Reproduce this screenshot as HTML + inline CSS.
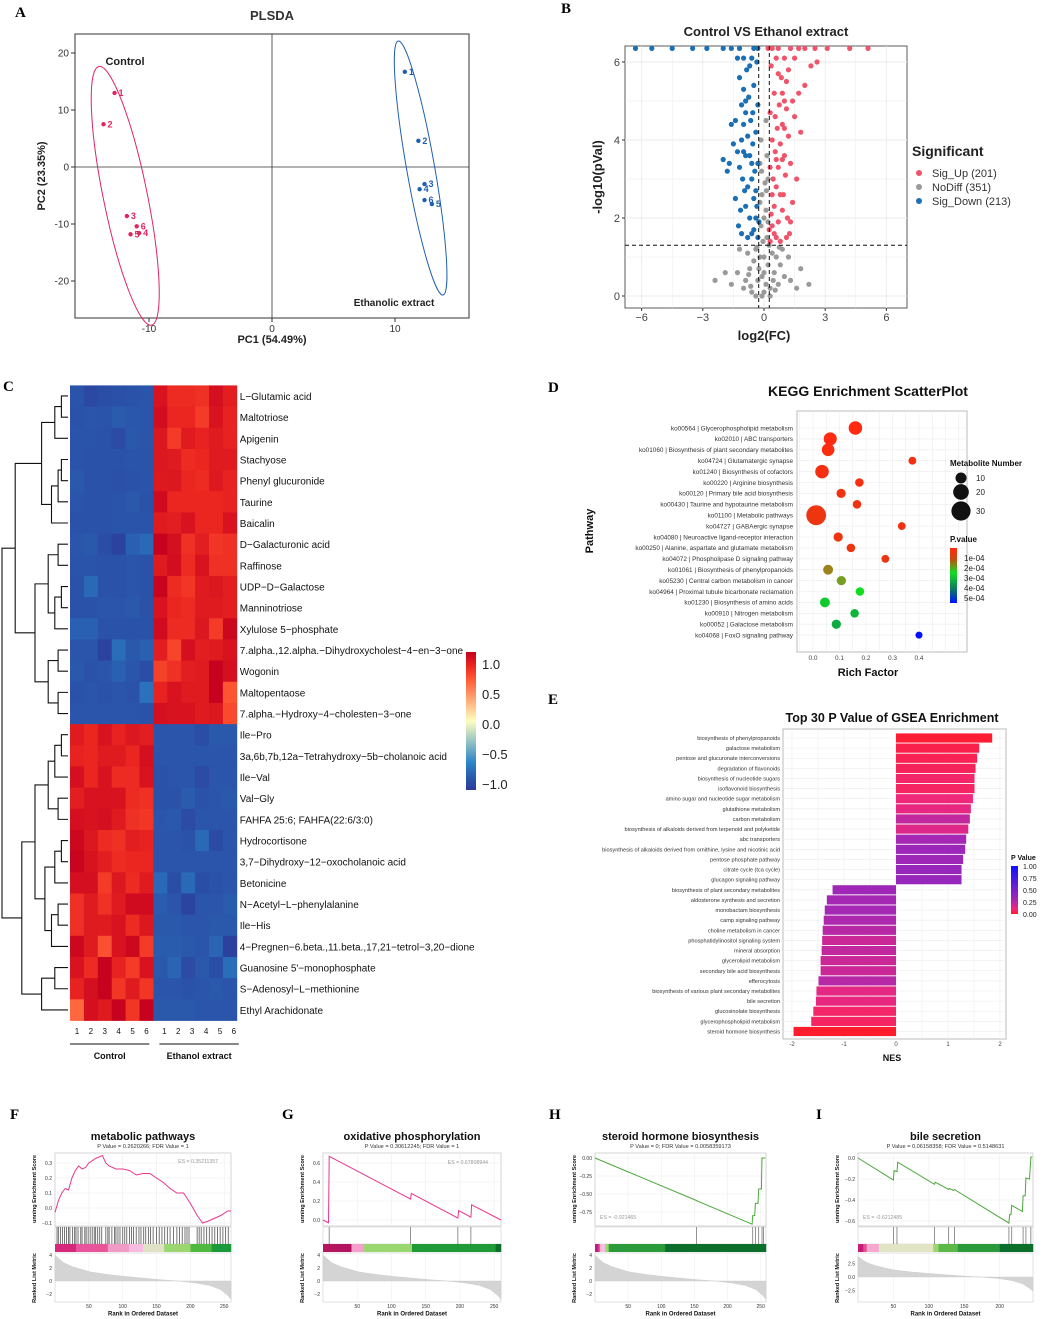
<!DOCTYPE html>
<html><head><meta charset="utf-8">
<style>
html,body{margin:0;padding:0;background:#fff;}
svg{display:block;font-family:"Liberation Sans",sans-serif;}
.pl{font-family:"Liberation Serif",serif;font-weight:bold;font-size:15px;}
</style></head>
<body>
<svg id="fig" width="1045" height="1319" viewBox="0 0 1045 1319" xmlns="http://www.w3.org/2000/svg">
<rect width="1045" height="1319" fill="#fff"/>
<text class="pl" x="15" y="17">A</text>
<text class="pl" x="561" y="13">B</text>
<text class="pl" x="3" y="391">C</text>
<text class="pl" x="548" y="392">D</text>
<text class="pl" x="548" y="704">E</text>
<text class="pl" x="10" y="1119">F</text>
<text class="pl" x="282" y="1119">G</text>
<text class="pl" x="549" y="1119">H</text>
<text class="pl" x="816" y="1119">I</text>
</svg>
<script>
// ---------- DATA ----------
const pcaCtrlX=[-12.8,-13.7,-11.8,-10.8,-11.5,-11.0];
const pcaCtrlY=[13.0,7.5,-8.6,-11.6,-11.8,-10.4];
const pcaEthX=[10.8,11.9,12.4,12.0,13.0,12.4];
const pcaEthY=[16.7,4.6,-3.0,-3.9,-6.5,-5.8];
const pcaLabels=['1','2','3','4','5','6'];
const pcaXTicks=[-10,0,10];
const pcaYTicks=[20,10,0,-10,-20];

const volUp=[[0.3,1.4],[0.4,1.8],[0.5,2.3],[0.6,2.8],[0.7,3.3],[0.8,3.9],[0.9,4.4],[1.0,5.0],[1.1,5.5],[1.2,4.1],[1.3,3.4],[1.5,4.6],[1.7,5.2],[2.0,5.4],[2.3,5.9],[2.6,6.0],[0.35,2.1],[0.45,3.0],[0.55,3.7],[0.65,4.3],[0.75,4.9],[0.85,5.6],[0.95,2.6],[1.05,3.1],[1.15,2.0],[1.25,1.6],[1.4,2.4],[0.3,4.7],[0.5,5.2],[0.7,1.9],[0.9,2.2],[1.1,1.5],[1.3,1.9],[0.4,4.0],[0.6,1.5],[0.8,2.6],[1.0,3.6],[1.2,5.8],[1.6,3.0],[0.3,3.3],[0.5,1.6],[0.7,5.7],[0.9,3.5],[1.1,4.8],[0.35,5.9],[0.55,4.6],[0.8,1.4],[1.0,4.3],[0.4,2.6],[0.6,3.5],[0.9,5.2],[1.4,5.0],[1.8,4.2],[0.25,1.7],[0.6,6.1],[1.0,6.1],[1.5,6.1],[0.7,6.35],[1.3,6.35],[2.0,6.35],[3.1,6.35],[4.2,6.35],[5.1,6.35],[0.4,6.35],[0.2,6.35],[1.7,6.35],[2.5,6.35]];
const volDown=[[-0.3,1.5],[-0.4,2.0],[-0.5,2.5],[-0.6,3.0],[-0.7,3.6],[-0.8,4.1],[-0.9,4.7],[-1.0,5.3],[-1.1,4.0],[-1.2,3.3],[-1.3,3.7],[-1.5,3.9],[-1.7,3.4],[-2.0,3.5],[-1.8,3.2],[-0.35,2.3],[-0.45,3.2],[-0.55,3.9],[-0.65,4.5],[-0.75,5.1],[-0.85,5.8],[-0.95,2.7],[-1.05,3.0],[-1.15,2.2],[-1.25,1.8],[-1.4,2.5],[-0.3,4.9],[-0.5,5.4],[-0.7,2.0],[-0.9,2.3],[-1.1,1.6],[-0.4,4.2],[-0.6,1.6],[-0.8,2.8],[-1.0,3.7],[-1.2,5.6],[-1.6,4.4],[-0.3,3.4],[-0.5,1.7],[-0.7,5.9],[-0.9,3.6],[-1.1,4.9],[-0.35,6.0],[-0.55,4.7],[-0.8,1.5],[-1.0,4.4],[-0.4,2.7],[-0.6,3.4],[-0.9,5.0],[-1.4,4.5],[-0.25,1.9],[-0.6,6.1],[-1.0,6.1],[-1.3,6.1],[-0.5,6.35],[-1.2,6.35],[-2.0,6.35],[-3.5,6.35],[-4.5,6.35],[-5.5,6.35],[-6.3,6.35],[-0.3,6.35],[-2.8,6.35],[-1.6,6.35]];
const volNo=[[0,0.1],[0.1,0.3],[-0.1,0.5],[0.2,0.8],[-0.2,1.0],[0.3,0.2],[-0.3,0.4],[0.5,0.6],[-0.5,0.9],[0.7,0.3],[-0.7,0.7],[1.0,0.5],[-1.0,0.2],[1.3,0.4],[-1.3,0.6],[1.6,0.2],[-1.6,0.3],[0.4,1.1],[-0.4,1.2],[0.6,1.0],[-0.6,0.1],[0.8,0.8],[-0.8,1.1],[0.9,1.2],[-0.9,0.4],[0.15,1.5],[-0.15,1.8],[0.1,2.2],[-0.1,2.6],[0.2,3.0],[-0.2,3.4],[0.05,2.9],[-0.05,1.4],[0.2,1.9],[-0.2,2.4],[0.15,3.6],[-0.15,4.0],[0.1,4.5],[-0.1,0.0],[0.3,0.0],[-0.4,0.0],[1.2,1.0],[-1.2,1.2],[0.45,0.4],[-0.25,0.7],[0.25,1.3],[-0.35,1.25],[1.8,0.7],[-1.9,0.6],[2.2,0.3],[-2.4,0.4],[0.55,0.15],[-0.65,0.25],[0.75,1.25],[-0.75,0.55],[0.0,1.0],[0.0,2.0],[0.12,2.7],[-0.12,3.2],[0.0,0.6]];
const volXTicks=[-6,-3,0,3,6];
const volYTicks=[0,2,4,6];
const volLegend=['Sig_Up (201)','NoDiff (351)','Sig_Down (213)'];

const hmRows=['L\u2212Glutamic acid','Maltotriose','Apigenin','Stachyose','Phenyl glucuronide','Taurine','Baicalin','D\u2212Galacturonic acid','Raffinose','UDP\u2212D\u2212Galactose','Manninotriose','Xylulose 5\u2212phosphate','7.alpha.,12.alpha.\u2212Dihydroxycholest\u22124\u2212en\u22123\u2212one','Wogonin','Maltopentaose','7.alpha.\u2212Hydroxy\u22124\u2212cholesten\u22123\u2212one','Ile\u2212Pro','3a,6b,7b,12a\u2212Tetrahydroxy\u22125b\u2212cholanoic acid','Ile\u2212Val','Val\u2212Gly','FAHFA 25:6; FAHFA(22:6/3:0)','Hydrocortisone','3,7\u2212Dihydroxy\u221212\u2212oxocholanoic acid','Betonicine','N\u2212Acetyl\u2212L\u2212phenylalanine','Ile\u2212His','4\u2212Pregnen\u22126.beta.,11.beta.,17,21\u2212tetrol\u22123,20\u2212dione','Guanosine 5\'\u2212monophosphate','S\u2212Adenosyl\u2212L\u2212methionine','Ethyl Arachidonate'];
const hmValues=[
[-0.85,-0.92,-0.88,-0.87,-0.86,-0.84,0.9,0.78,0.78,0.76,0.92,0.84],
[-0.86,-0.84,-0.85,-0.8,-0.83,-0.84,0.93,0.8,0.8,0.72,0.9,0.82],
[-0.85,-0.85,-0.86,-0.9,-0.82,-0.84,0.88,0.72,0.86,0.82,0.86,0.82],
[-0.85,-0.86,-0.86,-0.86,-0.85,-0.85,0.88,0.86,0.78,0.8,0.86,0.86],
[-0.82,-0.86,-0.86,-0.87,-0.86,-0.85,0.87,0.88,0.8,0.78,0.87,0.82],
[-0.84,-0.86,-0.86,-0.85,-0.82,-0.86,0.94,0.8,0.8,0.8,0.8,0.82],
[-0.86,-0.86,-0.86,-0.85,-0.85,-0.85,0.86,0.84,0.9,0.8,0.8,0.9],
[-0.84,-0.82,-0.88,-0.95,-0.78,-0.74,0.99,0.92,0.76,0.84,0.74,0.76],
[-0.85,-0.85,-0.86,-0.86,-0.84,-0.86,0.86,0.93,0.78,0.9,0.76,0.76],
[-0.86,-0.74,-0.86,-0.86,-0.84,-0.86,0.98,0.78,0.74,0.86,0.88,0.84],
[-0.86,-0.86,-0.84,-0.84,-0.82,-0.86,0.9,0.8,0.78,0.86,0.86,0.84],
[-0.78,-0.78,-0.86,-0.86,-0.86,-0.86,0.94,0.78,0.78,0.88,0.72,0.96],
[-0.84,-0.84,-0.95,-0.72,-0.82,-0.78,0.84,0.68,0.92,0.84,0.86,0.9],
[-0.82,-0.86,-0.84,-0.78,-0.84,-0.88,0.7,0.76,0.84,0.86,0.99,0.92],
[-0.86,-0.84,-0.86,-0.84,-0.86,-0.7,0.82,0.9,0.86,0.86,0.99,0.62],
[-0.84,-0.84,-0.84,-0.84,-0.84,-0.86,0.92,0.9,0.9,0.86,0.88,0.66],
[0.86,0.8,0.9,0.82,0.88,0.84,-0.84,-0.84,-0.84,-0.88,-0.82,-0.82],
[0.82,0.8,0.86,0.86,0.8,0.92,-0.84,-0.84,-0.84,-0.84,-0.84,-0.84],
[0.92,0.8,0.9,0.78,0.78,0.9,-0.86,-0.84,-0.84,-0.9,-0.84,-0.84],
[0.84,0.9,0.9,0.9,0.78,0.76,-0.86,-0.86,-0.8,-0.86,-0.84,-0.82],
[0.92,0.9,0.92,0.86,0.76,0.74,-0.84,-0.82,-0.9,-0.84,-0.84,-0.84],
[0.96,0.88,0.78,0.76,0.84,0.82,-0.84,-0.84,-0.86,-0.74,-0.9,-0.84],
[0.98,0.9,0.84,0.78,0.8,0.8,-0.84,-0.84,-0.84,-0.84,-0.84,-0.84],
[0.92,0.92,0.72,0.88,0.78,0.86,-0.74,-0.88,-0.74,-0.88,-0.86,-0.84],
[0.76,0.86,0.76,0.86,0.94,0.94,-0.8,-0.84,-0.94,-0.84,-0.84,-0.8],
[0.76,0.86,0.86,0.9,0.78,0.88,-0.82,-0.82,-0.84,-0.84,-0.82,-0.82],
[0.96,0.86,0.64,0.9,0.96,0.72,-0.8,-0.8,-0.82,-0.84,-0.76,-0.96],
[0.9,0.78,0.99,0.82,0.72,0.9,-0.82,-0.76,-0.9,-0.82,-0.88,-0.72],
[0.82,0.92,0.99,0.74,0.86,0.74,-0.84,-0.84,-0.86,-0.84,-0.82,-0.84],
[0.55,0.92,0.86,0.99,0.74,0.99,-0.82,-0.82,-0.82,-0.84,-0.84,-0.84]];
const hmColLabels=['1','2','3','4','5','6','1','2','3','4','5','6'];
const hmGroups=['Control','Ethanol extract'];
const hmScaleTicks=[1.0,0.5,0.0,-0.5,-1.0];
const dendro=[[[[[[0,1,1],2,2],[[[3,4,1],5,1.5],6,2.5],4],[[[7,8,1.5],[[9,10,1],11,2],3],[[12,13,1.5],[14,15,1.5],3],5],8],[[[[[16,17,1],18,2],[19,20,1.5],3],[[[21,22,1],23,2],[[24,25,1.5],26,2.5],3.5],5],[[27,28,2],29,4],7],10]][0];

const keggNames=['ko00564 | Glycerophospholipid metabolism','ko02010 | ABC transporters','ko01060 | Biosynthesis of plant secondary metabolites','ko04724 | Glutamatergic synapse','ko01240 | Biosynthesis of cofactors','ko00220 | Arginine biosynthesis','ko00120 | Primary bile acid biosynthesis','ko00430 | Taurine and hypotaurine metabolism','ko01100 | Metabolic pathways','ko04727 | GABAergic synapse','ko04080 | Neuroactive ligand-receptor interaction','ko00250 | Alanine, aspartate and glutamate metabolism','ko04072 | Phospholipase D signaling pathway','ko01061 | Biosynthesis of phenylpropanoids','ko05230 | Central carbon metabolism in cancer','ko04964 | Proximal tubule bicarbonate reclamation','ko01230 | Biosynthesis of amino acids','ko00910 | Nitrogen metabolism','ko00052 | Galactose metabolism','ko04068 | FoxO signaling pathway'];
const keggRich=[0.16,0.065,0.057,0.375,0.034,0.175,0.106,0.166,0.012,0.335,0.095,0.143,0.273,0.057,0.107,0.177,0.045,0.157,0.088,0.40];
const keggCount=[15,14,13,5,15,6,7,6,32,5,7,6,5,8,7,6,8,6,7,4];
const keggP=[0.9e-4,0.9e-4,0.95e-4,1.0e-4,1.0e-4,1.0e-4,1.05e-4,1.05e-4,1.1e-4,1.05e-4,1.1e-4,1.1e-4,1.15e-4,1.9e-4,2.2e-4,3.0e-4,3.2e-4,3.4e-4,3.5e-4,5.0e-4];
const keggXTicks=[0.0,0.1,0.2,0.3,0.4];
const keggSizeLegend=[10,20,30];
const keggPTicks=['1e-04','2e-04','3e-04','4e-04','5e-04'];

const gseaNames=['biosynthesis of phenylpropanoids','galactose metabolism','pentose and glucuronate interconversions','degradation of flavonoids','biosynthesis of nucleotide sugars','isoflavonoid biosynthesis','amino sugar and nucleotide sugar metabolism','glutathione metabolism','carbon metabolism','biosynthesis of alkaloids derived from terpenoid and polyketide','abc transporters','biosynthesis of alkaloids derived from ornithine, lysine and nicotinic acid','pentose phosphate pathway','citrate cycle (tca cycle)','glucagon signaling pathway','biosynthesis of plant secondary metabolites','aldosterone synthesis and secretion','monobactam biosynthesis','camp signaling pathway','choline metabolism in cancer','phosphatidylinositol signaling system','mineral absorption','glycerolipid metabolism','secondary bile acid biosynthesis','efferocytosis','biosynthesis of various plant secondary metabolites','bile secretion','glucosinolate biosynthesis','glycerophospholipid metabolism','steroid hormone biosynthesis'];
const gseaNES=[1.85,1.6,1.56,1.53,1.51,1.51,1.48,1.44,1.42,1.39,1.35,1.33,1.29,1.26,1.26,-1.22,-1.33,-1.37,-1.39,-1.41,-1.42,-1.43,-1.45,-1.45,-1.49,-1.53,-1.54,-1.59,-1.63,-1.97];
const gseaP=[0.01,0.04,0.05,0.06,0.08,0.07,0.1,0.12,0.22,0.15,0.3,0.34,0.33,0.36,0.36,0.33,0.3,0.3,0.28,0.25,0.2,0.22,0.2,0.2,0.25,0.13,0.12,0.08,0.07,0.0];
const gseaXTicks=[-2,-1,0,1,2];
const gseaPTicks=['1.00','0.75','0.50','0.25','0.00'];

const metricShape=[[0,4],[0.02,3.5],[0.05,2.8],[0.1,2.2],[0.15,1.8],[0.2,1.4],[0.3,1.0],[0.4,0.7],[0.5,0.45],[0.6,0.2],[0.7,0.0],[0.8,-0.3],[0.88,-0.7],[0.94,-1.3],[0.98,-2.2],[1,-2.8]];
const esF=[[0,-0.03],[5,0.05],[10,0.1],[15,0.13],[20,0.12],[25,0.2],[30,0.25],[35,0.28],[40,0.26],[45,0.27],[50,0.3],[60,0.33],[70,0.35],[75,0.3],[80,0.28],[90,0.26],[100,0.26],[110,0.25],[120,0.22],[130,0.23],[140,0.23],[150,0.2],[160,0.17],[170,0.13],[180,0.1],[190,0.1],[200,0.03],[210,-0.05],[218,-0.1],[225,-0.09],[235,-0.07],[245,-0.05],[255,-0.02],[260,-0.02]];
const esG=[[0,0],[8,-0.03],[9,0.67],[128,0.22],[129,0.28],[197,0.02],[198,0.1],[216,0.03],[217,0.16],[260,0.0]];
const esH=[[0,0],[153,-0.59],[155,-0.6],[237,-0.92],[238,-0.8],[241,-0.8],[242,-0.63],[246,-0.63],[247,-0.43],[251,-0.43],[252,0.0],[257,0.0]];
const esI=[[0,0],[50,-0.21],[51,-0.12],[55,-0.13],[56,-0.04],[108,-0.25],[109,-0.23],[128,-0.3],[129,-0.29],[135,-0.31],[136,-0.3],[213,-0.62],[214,-0.54],[216,-0.54],[217,-0.45],[232,-0.51],[233,-0.36],[236,-0.36],[237,-0.19],[242,-0.2],[244,0.01],[246,0.01]];
const hitsF=[3,5,8,11,14,17,20,22,26,29,31,34,38,40,44,46,49,52,55,58,60,63,66,69,75,78,80,84,88,90,93,96,100,103,106,110,113,116,120,124,127,131,134,138,141,145,150,154,158,162,166,170,175,180,184,188,192,195,198,210,213,216,220,224,228,232,236,240,244,248,252,256];
const hitsG=[9,128,197,216];
const hitsH=[153,238,242,247,252,254];
const hitsI=[50,55,108,128,136,213,217,233,237,244];

// ---------- HELPERS ----------
const NS='http://www.w3.org/2000/svg';
const svg=document.getElementById('fig');
function mk(tag,attrs,parent){const e=document.createElementNS(NS,tag);for(const k in attrs)e.setAttribute(k,attrs[k]);(parent||svg).appendChild(e);return e;}
function tx(x,y,s,attrs,parent){const e=mk('text',Object.assign({x:x,y:y},attrs||{}),parent);e.textContent=s;return e;}
function lerpHex(a,b,t){const pa=[1,3,5].map(i=>parseInt(a.substr(i,2),16)),pb=[1,3,5].map(i=>parseInt(b.substr(i,2),16));return 'rgb('+pa.map((v,i)=>Math.round(v+(pb[i]-v)*t)).join(',')+')';}
function ramp(stops,v){if(v<=stops[0][0])return stops[0][1];for(let i=1;i<stops.length;i++){if(v<=stops[i][0]){const t=(v-stops[i-1][0])/(stops[i][0]-stops[i-1][0]);return lerpHex(stops[i-1][1],stops[i][1],t);}}return stops[stops.length-1][1];}

// ---------- PANEL A: PLSDA ----------
(function(){
const g=mk('g',{});


const xA=v=>272+v*12.3, yA=v=>167-v*5.7;
const fr=mk('rect',{x:75,y:34,width:394,height:284,fill:'#fff',stroke:'#333','stroke-width':1},g);


const t=tx(272,20,'PLSDA',{'text-anchor':'middle','font-size':13,'font-weight':'bold',fill:'#333'},g);


const v0=mk('line',{x1:xA(0),x2:xA(0),y1:34,y2:318,stroke:'#333','stroke-width':0.8},g);


const h0=mk('line',{x1:75,x2:469,y1:yA(0),y2:yA(0),stroke:'#333','stroke-width':0.8},g);


pcaXTicks.forEach(v=>{mk('line',{x1:xA(v),x2:xA(v),y1:318,y2:322,stroke:'#333'},g);const l=tx(xA(v),332,String(v),{'text-anchor':'middle','font-size':10,fill:'#333'},g);});
pcaYTicks.forEach(v=>{mk('line',{x1:71,x2:75,y1:yA(v),y2:yA(v),stroke:'#333'},g);const l=tx(69,yA(v)+3.5,String(v),{'text-anchor':'end','font-size':10,fill:'#333'},g);});
const xt=tx(272,343,'PC1 (54.49%)',{'text-anchor':'middle','font-size':11,'font-weight':'bold',fill:'#222'},g);


const yt=tx(0,0,'PC2 (23.35%)',{'text-anchor':'middle','font-size':11,'font-weight':'bold',fill:'#222',transform:'translate(45,176) rotate(-90)'},g);


function group(xs,ys,col,name,ell){
 const cx=xs.reduce((a,b)=>a+b,0)/xs.length, cy=ys.reduce((a,b)=>a+b,0)/ys.length;
 const e=mk('ellipse',{cx:xA(cx),cy:yA(cy)-ell.dy,rx:ell.rx,ry:ell.ry,fill:'none',stroke:col,'stroke-width':1,transform:'rotate('+ell.rot+' '+xA(cx)+' '+(yA(cy)-ell.dy)+')'},g);
 
 
 xs.forEach((x,i)=>{
  const c=mk('circle',{cx:xA(x),cy:yA(ys[i]),r:2.2,fill:col},g);
  
  
  const l=tx(xA(x)+4,yA(ys[i])+3,pcaLabels[i],{'font-size':9,'font-weight':'bold',fill:col},g);
  
  
 });
}
group(pcaCtrlX,pcaCtrlY,'#e0245e','control',{rx:22,ry:132,rot:-11.5,dy:-8});
group(pcaEthX,pcaEthY,'#1f5fb0','ethanol',{rx:14,ry:129,rot:-10,dy:-3});
const c1=tx(125,65,'Control',{'text-anchor':'middle','font-size':11,'font-weight':'bold',fill:'#222'},g);


const c2=tx(394,306,'Ethanolic extract',{'text-anchor':'middle','font-size':10,'font-weight':'bold',fill:'#222'},g);


})();

// ---------- PANEL B: VOLCANO ----------
(function(){
const g=mk('g',{});


const L=625,R=907,T=46,B=308;
const xB=v=>764+v*20.4, yB=v=>296-v*39;
const fr=mk('rect',{x:L,y:T,width:R-L,height:B-T,fill:'#fff',stroke:'#333','stroke-width':0.8},g);


for(let v=-7.5;v<=7.5;v+=1.5){const x=xB(v);if(x>L&&x<R)mk('line',{x1:x,x2:x,y1:T,y2:B,stroke:'#ebebeb','stroke-width':Number.isInteger(v/3)?0.9:0.5},g);}
for(let v=0;v<=6.5;v+=1){const y=yB(v);if(y>T&&y<B)mk('line',{x1:L,x2:R,y1:y,y2:y,stroke:'#ebebeb','stroke-width':v%2===0?0.9:0.5},g);}
const pts=[[volNo,'#9a9a9a','nodiff-point'],[volUp,'#f0546a','sig-up-point'],[volDown,'#1a6fb5','sig-down-point']];
pts.forEach(([arr,col,nm])=>arr.forEach(p=>{const c=mk('circle',{cx:xB(p[0]),cy:yB(p[1]),r:2.6,fill:col},g);}));
[-0.26,0.26].forEach(v=>{const l=mk('line',{x1:xB(v),x2:xB(v),y1:T,y2:B,stroke:'#111','stroke-dasharray':'4,3','stroke-width':1},g);});
const hl=mk('line',{x1:L,x2:R,y1:yB(1.3),y2:yB(1.3),stroke:'#111','stroke-dasharray':'4,3','stroke-width':1},g);


volXTicks.forEach(v=>{mk('line',{x1:xB(v),x2:xB(v),y1:B,y2:B+3,stroke:'#333'},g);const l=tx(xB(v),B+13,String(v).replace('-','\u2212'),{'text-anchor':'middle','font-size':11,fill:'#444'},g);});
volYTicks.forEach(v=>{mk('line',{x1:L-3,x2:L,y1:yB(v),y2:yB(v),stroke:'#333'},g);const l=tx(L-5,yB(v)+4,String(v),{'text-anchor':'end','font-size':11,fill:'#444'},g);});
const t=tx(766,36,'Control VS Ethanol extract',{'text-anchor':'middle','font-size':13,'font-weight':'bold',fill:'#222'},g);


const xt=tx(764,340,'log2(FC)',{'text-anchor':'middle','font-size':13,'font-weight':'bold',fill:'#222'},g);


const yt=tx(0,0,'-log10(pVal)',{'text-anchor':'middle','font-size':13,'font-weight':'bold',fill:'#222',transform:'translate(602,177) rotate(-90)'},g);


const lt=tx(912,156,'Significant',{'font-size':14,'font-weight':'bold',fill:'#222'},g);


const lc=['#f0546a','#9a9a9a','#1a6fb5'];
volLegend.forEach((s,i)=>{const c=mk('circle',{cx:919,cy:173+i*14,r:3,fill:lc[i]},g);const l=tx(932,177+i*14,s,{'font-size':11,fill:'#333'},g);});
})();

// ---------- PANEL C: HEATMAP ----------
(function(){
const g=mk('g',{});


const L=70,T=385.4,cw=13.9,rh=21.17;
const stops=[[-1,'#2b3a9a'],[-0.8,'#2a5cae'],[-0.6,'#2b86c8'],[0,'#fefebe'],[0.6,'#ff5a34'],[0.8,'#eb2620'],[1,'#c4001e']];
hmValues.forEach((row,r)=>row.forEach((v,c)=>{const e=mk('rect',{x:L+c*cw,y:T+r*rh,width:cw+0.4,height:rh+0.4,fill:ramp(stops,v)},g);}));
hmRows.forEach((s,r)=>{const l=tx(L+12*cw+3,T+r*rh+rh/2+4,s,{'font-size':10.4,fill:'#111','transform':'translate('+((L+12*cw+3)*0.04)+',0) scale(0.96,1)'},g);});
hmColLabels.forEach((s,c)=>{const l=tx(L+c*cw+cw/2+(c>5?4:0),1034,s,{'text-anchor':'middle','font-size':8,fill:'#111'},g);});
[[L,L+6*cw],[L+6*cw+6,L+12*cw+6]].forEach((p,i)=>{const ln=mk('line',{x1:p[0],x2:p[1]-4,y1:1044,y2:1044,stroke:'#111','stroke-width':1},g);const l=tx((p[0]+p[1]-4)/2,1059,hmGroups[i],{'text-anchor':'middle','font-size':9,'font-weight':'bold',fill:'#111'},g);});
const hs=6.6;
function draw(n){if(typeof n==='number')return {y:T+n*rh+rh/2,x:L-2};const a=draw(n[0]),b=draw(n[1]);const x=L-2-n[2]*hs;const p=mk('path',{d:'M'+a.x+' '+a.y+'H'+x+'V'+b.y+'H'+b.x,fill:'none',stroke:'#111','stroke-width':1.1},g);return {x:x,y:(a.y+b.y)/2};}
draw(dendro);
const defs=mk('defs',{});const lg=mk('linearGradient',{id:'hmgrad',x1:0,y1:1,x2:0,y2:0},defs);
stops.forEach(s=>mk('stop',{offset:((s[0]+1)/2*100)+'%','stop-color':s[1]},lg));
const cb=mk('rect',{x:466,y:652,width:10,height:138,fill:'url(#hmgrad)'},g);


hmScaleTicks.forEach(v=>{const y=724-v*60;const l=tx(482,y+5,(v<0?'\u2212':'')+Math.abs(v).toFixed(1),{'font-size':13,fill:'#222'},g);});
})();

// ---------- PANEL D: KEGG ----------
(function(){
const g=mk('g',{});


const L=797,R=967,T=411,B=652;
const xD=v=>813+v*265, yD=i=>428+i*10.9;
const fr=mk('rect',{x:L,y:T,width:R-L,height:B-T,fill:'#fff',stroke:'#bbb','stroke-width':1},g);


for(let v=-0.05;v<=0.6;v+=0.05){const x=xD(v);if(x>L&&x<R)mk('line',{x1:x,x2:x,y1:T,y2:B,stroke:'#ececec','stroke-width':0.6},g);}
keggNames.forEach((s,i)=>{mk('line',{x1:L,x2:R,y1:yD(i),y2:yD(i),stroke:'#ececec','stroke-width':0.6},g);const l=tx(L-4,yD(i)+2.3,s,{'text-anchor':'end','font-size':6.4,fill:'#333'},g);});
const pstops=[[0.9e-4,'#ff2a10'],[1.5e-4,'#c84a10'],[2e-4,'#909020'],[3e-4,'#10dd20'],[4e-4,'#0c7860'],[5e-4,'#0010ff']];
keggRich.forEach((v,i)=>{const c=mk('circle',{cx:xD(v),cy:yD(i),r:1.75*Math.sqrt(keggCount[i]),fill:ramp(pstops,keggP[i])},g);});
keggXTicks.forEach(v=>{const l=tx(xD(v),B+8,v.toFixed(1),{'text-anchor':'middle','font-size':6.5,fill:'#444'},g);});
const t=tx(868,396,'KEGG Enrichment ScatterPlot',{'text-anchor':'middle','font-size':14,'font-weight':'bold',fill:'#111'},g);


const xt=tx(868,676,'Rich Factor',{'text-anchor':'middle','font-size':11,'font-weight':'bold',fill:'#111'},g);


const yt=tx(0,0,'Pathway',{'text-anchor':'middle','font-size':11,'font-weight':'bold',fill:'#111',transform:'translate(593,531) rotate(-90)'},g);


const st=tx(950,466,'Metabolite Number',{'font-size':8,'font-weight':'bold',fill:'#111'},g);


const sy=[478,492,511];
keggSizeLegend.forEach((n,i)=>{const c=mk('circle',{cx:961,cy:sy[i],r:1.75*Math.sqrt(n),fill:'#111'},g);const l=tx(976,sy[i]+3,String(n),{'font-size':8,fill:'#222'},g);});
const pt=tx(950,542,'P.value',{'font-size':8,'font-weight':'bold',fill:'#111'},g);


const defs=mk('defs',{});const lg=mk('linearGradient',{id:'kgrad',x1:0,y1:0,x2:0,y2:1},defs);
[['0%','#ff2a10'],['20%','#c84a10'],['45%','#10dd20'],['75%','#0c7860'],['100%','#0010ff']].forEach(s=>mk('stop',{offset:s[0],'stop-color':s[1]},lg));
const cb=mk('rect',{x:950,y:548,width:7,height:55,fill:'url(#kgrad)'},g);


keggPTicks.forEach((s,i)=>{const l=tx(964,561+i*10,s,{'font-size':8,fill:'#222'},g);});
})();

// ---------- PANEL E: GSEA BAR ----------
(function(){
const g=mk('g',{});


const L=783,R=1006,T=729,B=1039;
const xE=v=>896+v*52, yE=i=>738+i*10.12;
const fr=mk('rect',{x:L,y:T,width:R-L,height:B-T,fill:'#fff',stroke:'#bbb','stroke-width':1},g);


for(let v=-2;v<=2;v+=0.5)mk('line',{x1:xE(v),x2:xE(v),y1:T,y2:B,stroke:'#ececec','stroke-width':0.6},g);
const cs=[[0,'#ff1c2c'],[0.1,'#f0287a'],[0.3,'#a428b4'],[1,'#1010ff']];
gseaNES.forEach((v,i)=>{
 mk('line',{x1:L,x2:R,y1:yE(i),y2:yE(i),stroke:'#ececec','stroke-width':0.6},g);
 const b=mk('rect',{x:Math.min(xE(0),xE(v)),y:yE(i)-4.6,width:Math.abs(xE(v)-xE(0)),height:9.2,fill:ramp(cs,gseaP[i])},g);
 
 
 const l=tx(L-3,yE(i)+2,gseaNames[i],{'text-anchor':'end','font-size':5.6,fill:'#333'},g);
 
 
});
gseaXTicks.forEach(v=>{const l=tx(xE(v),B+7,String(v),{'text-anchor':'middle','font-size':6,fill:'#444'},g);});
const t=tx(892,722,'Top 30 P Value of GSEA Enrichment',{'text-anchor':'middle','font-size':12.5,'font-weight':'bold',fill:'#111'},g);


const xt=tx(892,1061,'NES',{'text-anchor':'middle','font-size':9,'font-weight':'bold',fill:'#111'},g);


const pt=tx(1011,860,'P Value',{'font-size':7,'font-weight':'bold',fill:'#111'},g);


const defs=mk('defs',{});const lg=mk('linearGradient',{id:'egrad',x1:0,y1:1,x2:0,y2:0},defs);
cs.forEach(s=>mk('stop',{offset:(s[0]*100)+'%','stop-color':s[1]},lg));
const cb=mk('rect',{x:1011,y:866,width:7,height:48,fill:'url(#egrad)'},g);


gseaPTicks.forEach((s,i)=>{const l=tx(1023,869+i*12,s,{'font-size':7,fill:'#222'},g);});
})();

// ---------- PANELS F-I: GSEA PLOTS ----------
function gsea(o){
const g=mk('g',{});


const L=o.L,R=o.R;
const xr=r=>L+r*(R-L)/o.maxRank;
const yes=v=>o.e0p+(v-o.e0v)*(o.e1p-o.e0p)/(o.e1v-o.e0v);
const ym=v=>o.m0p+v*o.mscale;
const cx=(L+R)/2;
const t=tx(cx,1140,o.title,{'text-anchor':'middle','font-size':11,'font-weight':'bold',fill:'#111'},g);


const st=tx(cx,1148,o.sub,{'text-anchor':'middle','font-size':5.6,fill:'#333'},g);


mk('rect',{x:L,y:1153,width:R-L,height:73,fill:'#fff',stroke:'#ccc','stroke-width':0.8},g);
o.esTicks.forEach(v=>{mk('line',{x1:L,x2:R,y1:yes(v),y2:yes(v),stroke:'#eee','stroke-width':0.6},g);const l=tx(L-3,yes(v)+2,o.esFmt(v),{'text-anchor':'end','font-size':5,fill:'#333'},g);});
o.xTicks.forEach(v=>mk('line',{x1:xr(v),x2:xr(v),y1:1153,y2:1226,stroke:'#eee','stroke-width':0.6},g));
const d=o.es.map((p,i)=>(i?'L':'M')+xr(p[0]).toFixed(1)+' '+yes(p[1]).toFixed(1)).join('');
const path=mk('path',{d:d,fill:'none',stroke:o.col,'stroke-width':1},g);


const esl=tx(o.esPos[0],o.esPos[1],o.esText,{'font-size':5.2,fill:'#999','text-anchor':o.esAnchor},g);


mk('rect',{x:L,y:1227,width:R-L,height:17,fill:'#fff',stroke:'#ccc','stroke-width':0.6},g);
o.hits.forEach(h=>{const l=mk('line',{x1:xr(h),x2:xr(h),y1:1227,y2:1244,stroke:'#666','stroke-width':o.hitW},g);});
let prev=0;o.segs.forEach(s=>{const r=mk('rect',{x:L+prev*(R-L),y:1244,width:(s[0]-prev)*(R-L)+0.3,height:8,fill:s[1]},g);prev=s[0];});
mk('rect',{x:L,y:1253,width:R-L,height:49,fill:'#fff',stroke:'#ccc','stroke-width':0.6},g);
o.xTicks.forEach(v=>mk('line',{x1:xr(v),x2:xr(v),y1:1253,y2:1302,stroke:'#f0f0f0','stroke-width':0.6},g));
const md='M'+L+' '+ym(0)+metricShape.map(p=>'L'+(L+p[0]*(R-L)).toFixed(1)+' '+ym(p[1]*o.mMul).toFixed(1)).join('')+'L'+R+' '+ym(0)+'Z';
const ma=mk('path',{d:md,fill:'#d4d4d4',stroke:'#c8c8c8','stroke-width':0.4},g);


o.mTicks.forEach(v=>{const l=tx(L-3,ym(v)+2,o.mFmt(v),{'text-anchor':'end','font-size':5,fill:'#333'},g);});
o.xTicks.forEach(v=>{const l=tx(xr(v),1308,String(v),{'text-anchor':'middle','font-size':5,fill:'#333'},g);});
const xt=tx(cx,1315.5,'Rank in Ordered Dataset',{'text-anchor':'middle','font-size':6,'font-weight':'bold',fill:'#111'},g);


const y1=tx(0,0,'unning Enrichment Score',{'text-anchor':'middle','font-size':5.6,'font-weight':'bold',fill:'#111',transform:'translate('+(L-19)+',1189) rotate(-90)'},g);


const y2=tx(0,0,'Ranked List Metric',{'text-anchor':'middle','font-size':5.6,'font-weight':'bold',fill:'#111',transform:'translate('+(L-19)+',1278) rotate(-90)'},g);


}
const f2=v=>v.toFixed(1).replace('-','\u2212'), f3=v=>v.toFixed(2).replace('-','\u2212'), fi=v=>String(v).replace('-','\u2212');
gsea({id:'metabolic-pathways',L:55,R:231,maxRank:260,title:'metabolic pathways',sub:'P Value = 0.2620266; FDR Value = 1',e0v:0.3,e0p:1163,e1v:-0.1,e1p:1223,esTicks:[0.3,0.2,0.1,0.0,-0.1],esFmt:f2,es:esF,col:'#e8368f',esText:'ES = 0.35211357',esPos:[218,1163],esAnchor:'end',hits:hitsF,hitW:0.9,segs:[[0.12,'#d6287a'],[0.3,'#e8559a'],[0.42,'#f29ac6'],[0.5,'#f7bde0'],[0.62,'#dfe2c5'],[0.77,'#9bd770'],[0.89,'#4fb83e'],[1,'#1a9a3a']],m0p:1281,mscale:-6.5,mMul:1,mTicks:[4,2,0,-2],mFmt:fi,xTicks:[50,100,150,200,250]});
gsea({id:'oxidative-phosphorylation',L:323,R:501,maxRank:260,title:'oxidative phosphorylation',sub:'P Value = 0.30612245; FDR Value = 1',e0v:0.6,e0p:1163,e1v:0.0,e1p:1220,esTicks:[0.6,0.4,0.2,0.0],esFmt:f2,es:esG,col:'#e8368f',esText:'ES = 0.67808944',esPos:[488,1164],esAnchor:'end',hits:hitsG,hitW:0.7,segs:[[0.16,'#b5145f'],[0.23,'#f5a0cc'],[0.5,'#9bd770'],[0.97,'#1f9a38'],[1,'#0b6e2a']],m0p:1281,mscale:-6.5,mMul:1,mTicks:[4,2,0,-2],mFmt:fi,xTicks:[50,100,150,200,250]});
gsea({id:'steroid-hormone-biosynthesis',L:595,R:766,maxRank:258,title:'steroid hormone biosynthesis',sub:'P Value = 0; FDR Value = 0.0058359173',e0v:0.0,e0p:1158,e1v:-0.75,e1p:1212,esTicks:[0.0,-0.25,-0.5,-0.75],esFmt:f3,es:esH,col:'#4aa83a',esText:'ES = -0.921465',esPos:[600,1219],esAnchor:'start',hits:hitsH,hitW:0.7,segs:[[0.02,'#c51b7d'],[0.03,'#e74f95'],[0.06,'#f5c0de'],[0.08,'#9bd770'],[0.41,'#2a9a3a'],[1,'#0b6e2a']],m0p:1281,mscale:-6.5,mMul:1,mTicks:[4,2,0,-2],mFmt:fi,xTicks:[50,100,150,200,250]});
gsea({id:'bile-secretion',L:858,R:1033,maxRank:247,title:'bile secretion',sub:'P Value = 0.06158358; FDR Value = 0.5148631',e0v:0.0,e0p:1158,e1v:-0.6,e1p:1221,esTicks:[0.0,-0.2,-0.4,-0.6],esFmt:f2,es:esI,col:'#4aa83a',esText:'ES = -0.6212485',esPos:[863,1219],esAnchor:'start',hits:hitsI,hitW:0.7,segs:[[0.03,'#c51b7d'],[0.05,'#e74f95'],[0.12,'#f5a8d0'],[0.43,'#e2e4c6'],[0.46,'#9bd770'],[0.57,'#5cb848'],[0.81,'#2a9a3a'],[1,'#0b6e2a']],m0p:1277,mscale:-5.4,mMul:0.95,mTicks:[2.5,0.0,-2.5],mFmt:f2,xTicks:[50,100,150,200]});
</script>
</body></html>
